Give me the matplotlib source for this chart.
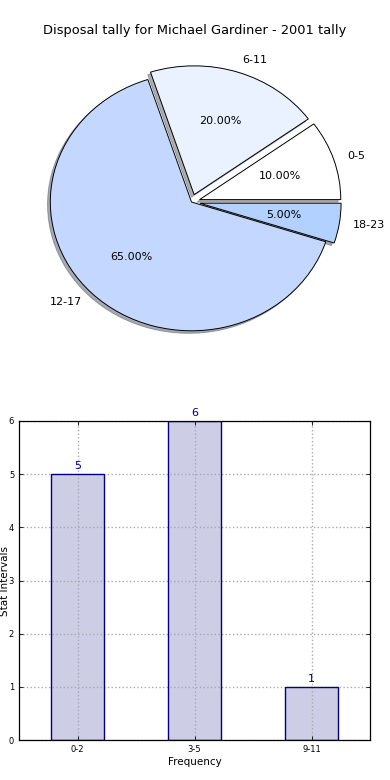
import matplotlib
matplotlib.use("Agg")
import matplotlib.pyplot as plt

pie_labels = ["0-5", "6-11", "12-17", "18-23"]
pie_values = [10, 20, 65, 5]
pie_colors = ["#ffffff", "#eaf1ff", "#c4d8ff", "#b3d1ff"]
pie_explode = [0.06, 0.06, 0.0, 0.06]

bar_labels = ["0-2", "3-5", "9-11"]
bar_values = [5, 6, 1]

fig = plt.figure(figsize=(3.9, 7.8), dpi=100)

# Pie
ax1 = fig.add_axes([15/390, 1 - 363/780, 353/390, 322/780])
wedges, texts, autotexts = ax1.pie(
    pie_values, labels=pie_labels, colors=pie_colors, explode=pie_explode,
    autopct="%.2f%%", shadow={"ox": -0.014, "oy": -0.014, "shade": 0.6},
    startangle=0, pctdistance=0.6, labeldistance=1.1,
    wedgeprops=dict(edgecolor="black", linewidth=0.7),
    textprops=dict(fontsize=8))
ax1.set_aspect("auto")
ax1.set_xlim(-1.25, 1.25)
ax1.set_ylim(-1.25, 1.25)
ax1.set_title("Disposal tally for Michael Gardiner - 2001 tally", fontsize=9.4,
              pad=5, x=(195 - 15) / 353)

# Bars
ax2 = fig.add_axes([19/390, 1 - 740/780, 351/390, 319/780])
x = list(range(len(bar_values)))
bars = ax2.bar(x, bar_values, width=0.45, color="#cdcee6", edgecolor="none",
               zorder=2)
ax2.bar(x, bar_values, width=0.45, color="none", edgecolor="#000080",
        linewidth=1.0, zorder=4)
ax2.bar_label(bars, labels=[str(v) for v in bar_values], padding=2,
              color="#000080", fontsize=8)
ax2.set_xlim(-0.5, 2.5)
ax2.set_ylim(0, 6)
ax2.set_xticks(x)
ax2.set_xticklabels(bar_labels)
ax2.set_yticks(range(0, 7))
ax2.tick_params(labelsize=6, direction="in", top=True, right=True, length=3, width=0.6)
ax2.grid(True, linestyle=":", color="#aaaaaa", linewidth=1.0, zorder=3)
ax2.set_axisbelow(False)
ax2.set_xlabel("Frequency", fontsize=7.5, labelpad=2)
ax2.set_ylabel("Stat Intervals", fontsize=7.5)
ax2.yaxis.set_label_coords(-0.026, 0.5)
for s in ax2.spines.values():
    s.set_linewidth(0.9)
    s.set_zorder(5)

fig.savefig("out.png", dpi=100)
